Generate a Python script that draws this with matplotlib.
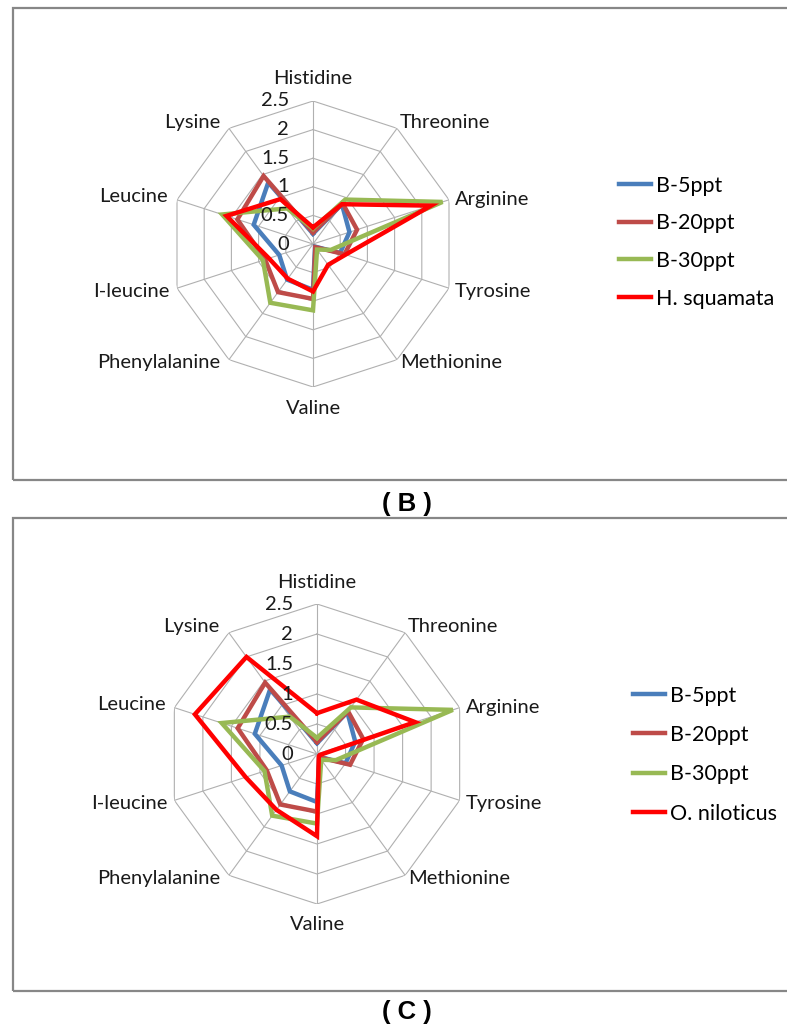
import numpy as np
import matplotlib
matplotlib.use("Agg")
import matplotlib.pyplot as plt
from matplotlib.patches import Rectangle

plt.rcParams['font.family'] = ['Lato', 'DejaVu Sans']

# -----------------------------
# data
# -----------------------------
amino_acids = ["Histidine", "Threonine", "Arginine", "Tyrosine", "Methionine",
               "Valine", "Phenylalanine", "I-leucine", "Leucine", "Lysine"]
ring_ticks = [0, 0.5, 1, 1.5, 2, 2.5]
ring_labels = ["0", "0.5", "1", "1.5", "2", "2.5"]

b_5ppt = [0.18, 0.86, 0.67, 0.50, 0.06, 0.80, 0.77, 0.62, 1.09, 1.33]
b_20ppt = [0.20, 0.88, 0.81, 0.58, 0.07, 0.96, 1.04, 0.88, 1.39, 1.47]
b_30ppt = [0.27, 0.96, 2.38, 0.33, 0.12, 1.16, 1.27, 0.92, 1.67, 0.77]
h_squamata = [0.29, 0.86, 2.17, 0.60, 0.45, 0.83, 0.75, 0.81, 1.59, 0.97]
o_niloticus = [0.68, 1.12, 1.72, 0.05, 0.05, 1.37, 1.15, 1.25, 2.14, 2.00]

series_names = ["B-5ppt", "B-20ppt", "B-30ppt"]
colors = ["#4a7ebb", "#be4b48", "#98b954", "#ff0000"]

W, H = 787, 1028
fig = plt.figure(figsize=(W / 100, H / 100), dpi=100)

# label offsets in pixels (dx, dy, ha) per spoke
offsets = [(0, 22, "center"), (3, 6, "left"), (6, 0, "left"), (6, -3, "left"),
           (3, -3, "left"), (0, -21, "center"), (-9, -3, "right"),
           (-7, -3, "right"), (-9, 3, "right"), (-9, 6, "right")]

FS = 14.5


def radar(cx, cy, rad, ref_vals, ref_name, box_top, box_bot, legend_xy, spacing, tag):
    # chart border
    fig.add_artist(Rectangle((13 / W, 1 - box_bot / H), (W + 5 - 13) / W,
                             (box_bot - box_top) / H, transform=fig.transFigure,
                             fill=False, edgecolor="#878787", lw=1.6))

    ax = fig.add_axes([(cx - rad) / W, 1 - (cy + rad) / H, 2 * rad / W, 2 * rad / H],
                      projection="polar")
    ax.set_theta_zero_location("N")
    ax.set_theta_direction(-1)
    ax.set_ylim(0, 2.5)
    ax.set_axis_off()

    n = len(amino_acids)
    theta = np.arange(n) * 2 * np.pi / n
    closed = np.append(theta, theta[0])

    # polygon grid + spokes
    for r in ring_ticks[1:]:
        ax.plot(closed, [r] * (n + 1), color="#b0b0b0", lw=0.8, zorder=1)
    for t in theta:
        ax.plot([t, t], [0, 2.5], color="#b0b0b0", lw=0.8, zorder=1)

    # series
    all_vals = [b_5ppt, b_20ppt, b_30ppt, ref_vals]
    names = series_names + [ref_name]
    for vals, name, c in zip(all_vals, names, colors):
        ax.plot(closed, vals + vals[:1], color=c, lw=3.2, label=name,
                solid_joinstyle="miter", zorder=3)

    # ring value labels
    for r, lbl in zip(ring_ticks, ring_labels):
        ax.annotate(lbl, xy=(0, r), xytext=(-24, 0), textcoords="offset pixels",
                    ha="right", va="center", fontsize=FS, color="#1a1a1a",
                    zorder=4)

    # category labels
    for t, lbl, (dx, dy, ha) in zip(theta, amino_acids, offsets):
        ax.annotate(lbl, xy=(t, 2.5), xytext=(dx, dy), textcoords="offset pixels",
                    ha=ha, va="center", fontsize=FS, color="#1a1a1a")

    ax.legend(loc="upper left", bbox_to_anchor=(legend_xy[0] / W, 1 - legend_xy[1] / H),
              bbox_transform=fig.transFigure, frameon=False, fontsize=15.5,
              handlelength=1.5, handletextpad=0.25, labelspacing=spacing,
              borderaxespad=0)

    fig.text(407 / W, 1 - tag[1] / H, tag[0], ha="center", va="center",
             fontsize=18.5, fontweight="bold", family="Liberation Sans")


radar(313, 244, 143, h_squamata, "H. squamata", 8, 480, (610, 167), 0.82, ("( B )", 504))
radar(317, 754, 150, o_niloticus, "O. niloticus", 518, 991, (624, 677), 0.9, ("( C )", 1012))

fig.savefig("out.png", dpi=100, facecolor="white")
